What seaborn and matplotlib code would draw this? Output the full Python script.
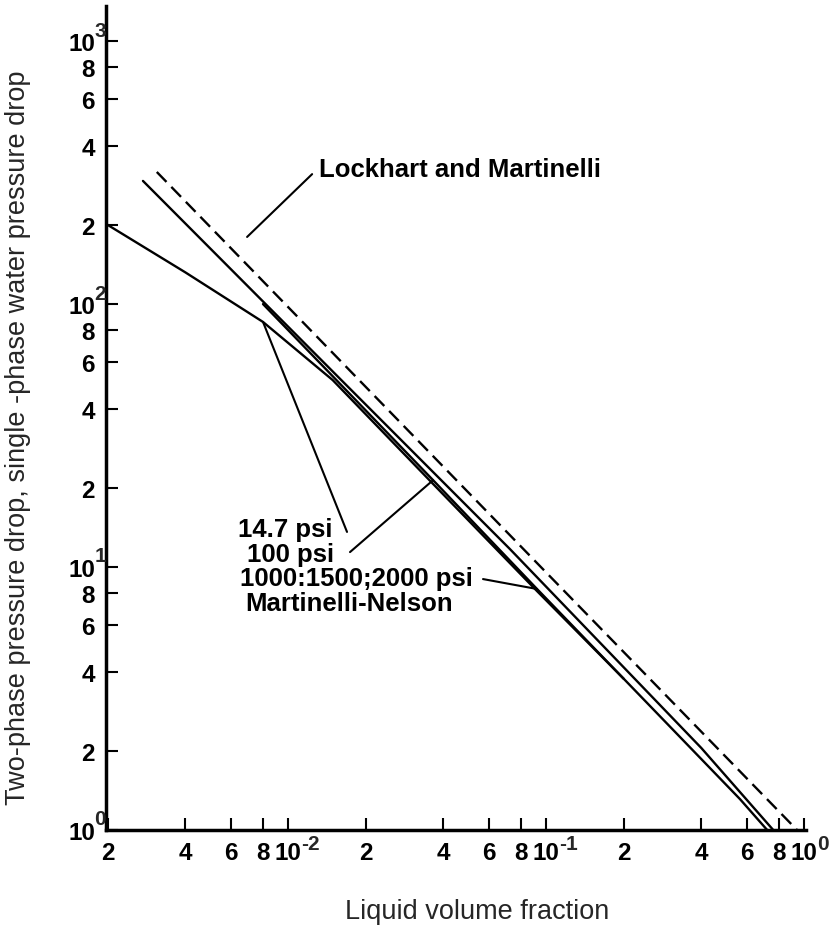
import matplotlib
matplotlib.use("Agg")
import matplotlib.pyplot as plt
import numpy as np
import pandas as pd
import seaborn as sns

# ---- data (liquid volume fraction vs. pressure-drop ratio) ----
lm_x = [0.0031, 0.01, 0.1, 0.94]                      # Lockhart and Martinelli
lm_y = [318, 97.5, 9.55, 1.0]

upper_x = [0.00274, 0.0159, 0.0725, 0.40, 0.76]        # upper solid curve
upper_y = [294, 52, 11.7, 2.05, 1.0]

mn_x = [0.0080, 0.0365, 0.0923, 0.565, 0.72]           # 1000;1500;2000 psi, Martinelli-Nelson
mn_y = [100, 21.4, 8.25, 1.31, 1.0]

atm_x = [0.0020, 0.0040, 0.0080, 0.0149, 0.0365, 0.0923, 0.20]   # 14.7 psi
atm_y = [200, 132, 85.5, 51.4, 20.7, 8.1, 3.76]

x_ticks = [0.002, 0.004, 0.006, 0.008, 0.01, 0.02, 0.04, 0.06, 0.08, 0.1,
           0.2, 0.4, 0.6, 0.8, 1.0]
x_ticklabels = ["2", "4", "6", "8", "10", "2", "4", "6", "8", "10",
                "2", "4", "6", "8", "10"]
x_decades = [0.01, 0.1, 1.0]
x_exponents = ["-2", "-1", "0"]

y_ticks = [1, 2, 4, 6, 8, 10, 20, 40, 60, 80, 100, 200, 400, 600, 800, 1000]
y_ticklabels = ["10", "2", "4", "6", "8", "10", "2", "4", "6", "8",
                "10", "2", "4", "6", "8", "10"]
y_decades = [1, 10, 100, 1000]
y_exponents = ["0", "1", "2", "3"]

# leader lines: (curve point, label end)
lm_leader_x, lm_leader_y = [0.0124, 0.00694], [312, 180]
p14_leader_x, p14_leader_y = [0.0080, 0.01693], [85.5, 13.6]
p100_leader_x, p100_leader_y = [0.0365, 0.01739], [21.4, 11.4]
p1000_leader_x, p1000_leader_y = [0.0570, 0.0923], [9.0, 8.25]

labels = ["Lockhart and Martinelli", "14.7 psi", "100 psi",
          "1000:1500;2000 psi", "Martinelli-Nelson"]
label_x = [0.01318, 0.00640, 0.00694, 0.00652, 0.00681]
label_y = [307, 13.1, 10.5, 8.54, 6.87]

# ---- style ----
sns.set_theme(style="ticks")
plt.rcParams["font.family"] = ["Liberation Sans", "DejaVu Sans"]
plt.rcParams["lines.scale_dashes"] = False

fig = plt.figure(figsize=(8.34, 9.28), dpi=100)
ax = fig.add_axes([106 / 834, 97 / 928, 700 / 834, 824 / 928])
ax.set_facecolor("white")
fig.patch.set_facecolor("white")

lw = 1.7
curves = pd.concat([
    pd.DataFrame({"x": upper_x, "y": upper_y, "curve": "upper"}),
    pd.DataFrame({"x": mn_x, "y": mn_y, "curve": "mn"}),
    pd.DataFrame({"x": atm_x, "y": atm_y, "curve": "atm"}),
])
for name, grp in curves.groupby("curve", sort=False):
    sns.lineplot(data=grp, x="x", y="y", ax=ax, color="black", lw=lw,
                 sort=False, estimator=None)

lm = pd.DataFrame({"x": lm_x, "y": lm_y})
sns.lineplot(data=lm, x="x", y="y", ax=ax, color="black", lw=lw,
             sort=False, estimator=None, dashes=False)
ax.lines[-1].set_dashes((10, 5.0))

for lx, ly in [(lm_leader_x, lm_leader_y), (p14_leader_x, p14_leader_y),
               (p100_leader_x, p100_leader_y), (p1000_leader_x, p1000_leader_y)]:
    ax.plot(lx, ly, color="black", lw=1.5)

for txt, tx, ty in zip(labels, label_x, label_y):
    ax.text(tx, ty, txt, fontsize=18.5, fontweight="bold", color="black",
            ha="left", va="baseline")

# ---- axes ----
ax.set_xscale("log")
ax.set_yscale("log")
ax.set_xlim(0.00197, 1.018)
ax.set_ylim(1.0, 1360)
ax.set_xticks(x_ticks)
ax.set_xticklabels(x_ticklabels)
ax.set_yticks(y_ticks)
ax.set_yticklabels(y_ticklabels)
ax.minorticks_off()
ax.tick_params(direction="in", length=8.5, width=1.5, pad=8, colors="black",
               labelsize=17.5)
for t in ax.get_xticklabels() + ax.get_yticklabels():
    t.set_fontweight("bold")

for s in ["top", "right"]:
    ax.spines[s].set_visible(False)
for s in ["left", "bottom"]:
    ax.spines[s].set_linewidth(2.5)
    ax.spines[s].set_color("black")

# decade exponents
for v, e in zip(x_decades, x_exponents):
    ax.annotate(e, xy=(v, 0), xycoords=("data", "axes fraction"),
                xytext=(9.5, -13.5), textcoords="offset points",
                ha="left", va="baseline", fontsize=15, fontweight="bold",
                annotation_clip=False)
for v, e in zip(y_decades, y_exponents):
    ax.annotate(e, xy=(0, v), xycoords=("axes fraction", "data"),
                xytext=(-8.5, 4), textcoords="offset points",
                ha="left", va="baseline", fontsize=15, fontweight="bold",
                annotation_clip=False)

ax.set_xlabel("")
ax.set_ylabel("")
fig.text(477 / 834, 9 / 928, "Liquid volume fraction", fontsize=19.5,
         ha="center", va="baseline")
fig.text(18 / 834, 1 - 438 / 928,
         "Two-phase pressure drop, single -phase water pressure drop",
         fontsize=19.5, rotation=90, ha="center", va="center")

fig.savefig("out.png", dpi=100, facecolor="white")
